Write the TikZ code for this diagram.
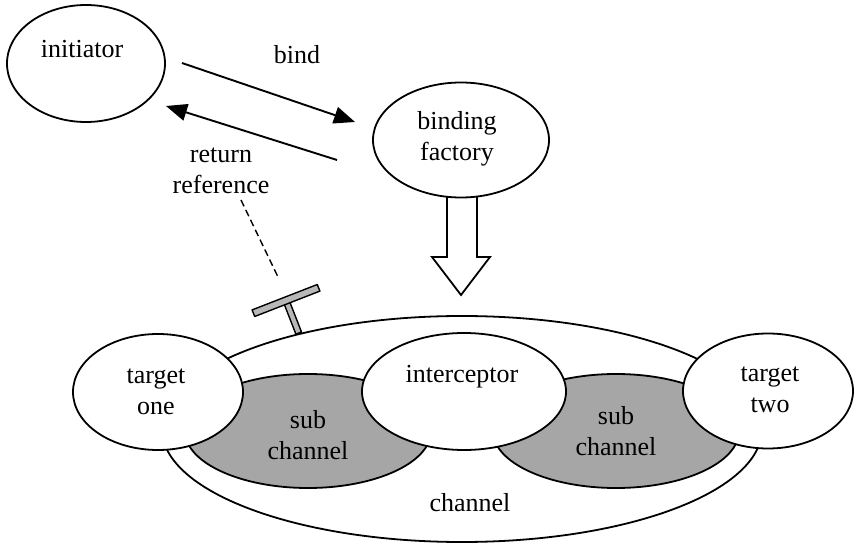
\documentclass[tikz,border=0pt]{standalone}
\usepackage{fontspec}
\setmainfont{Liberation Serif}
\usetikzlibrary{shapes.geometric,arrows.meta}
\tikzset{
  ell/.style={ellipse, draw, line width=1.8pt, fill=white, inner sep=0pt},
  subch/.style={ellipse, draw, line width=1.8pt, fill=black!35, inner sep=0pt},
  txt/.style={font=\fontsize{26}{31}\selectfont, align=center, inner sep=0pt},
  arr/.style={line width=1.9pt, -{Triangle[length=21pt,width=17pt]}},
  handle/.style={draw, line width=1.4pt, fill=black!28, line join=round},
  hollow/.style={draw, line width=1.8pt, fill=white, line join=miter},
}
\begin{document}
\begin{tikzpicture}[x=1pt,y=-1pt]
\useasboundingbox (0,0) rectangle (854,545);
% T-shaped handle
\draw[handle] (284.3,304.4) -- (289.9,302.2) -- (301.5,332.0) -- (295.9,334.2) -- cycle;
\draw[handle] (252.1,309.9) -- (254.7,316.5) -- (319.9,291.1) -- (317.3,284.5) -- cycle;
% channel
\node[ell, minimum width=600pt, minimum height=226pt] (chan) at (462,429) {};
\node[txt] (chanlbl) at (470,503) {channel};
% sub channels
\node[subch, minimum width=246pt, minimum height=114pt] (sub1) at (308,431) {};
\node[subch, minimum width=246pt, minimum height=114pt] (sub2) at (616,431) {};
\node[txt] (sub1lbl) at (308,435) {sub\\channel};
\node[txt] (sub2lbl) at (616,431) {sub\\channel};
% targets and interceptor
\node[ell, minimum width=170pt, minimum height=116pt] (t1) at (158,392) {};
\node[txt] (t1lbl) at (156,392) {target\\one};
\node[ell, minimum width=204pt, minimum height=117pt] (icp) at (464,391.5) {};
\node[txt] (icplbl) at (462,377) {interceptor};
\node[ell, minimum width=170pt, minimum height=115pt] (t2) at (768,391) {};
\node[txt] (t2lbl) at (770,390) {target\\two};
% hollow arrow from binding factory to channel
\draw[hollow] (447,190) -- (447,257) -- (432,257) -- (461,295) -- (490,257) -- (477,257) -- (477,190) -- cycle;
% binding factory
\node[ell, minimum width=176pt, minimum height=115pt] (bf) at (461,140) {};
\node[txt] (bflbl) at (457,139) {binding\\factory};
% initiator
\node[ell, minimum width=158pt, minimum height=117pt] (init) at (86,63.5) {};
\node[txt] (initlbl) at (82,49) {initiator};
% arrows
\coordinate (b1) at (182,63);
\coordinate (b2) at (355,122);
\coordinate (r1) at (337,160);
\coordinate (r2) at (166,106);
\draw[arr] (b1) -- (b2);
\draw[arr] (r1) -- (r2);
\node[txt] (bindlbl) at (297,55) {bind};
\node[txt] (retlbl) at (221,170.5) {return\\reference};
% dashed reference line
\coordinate (d1) at (241,200);
\coordinate (d2) at (278,277);
\draw[line width=1.4pt, dash pattern=on 7pt off 4pt] (d1) -- (d2);
\end{tikzpicture}
\end{document}
